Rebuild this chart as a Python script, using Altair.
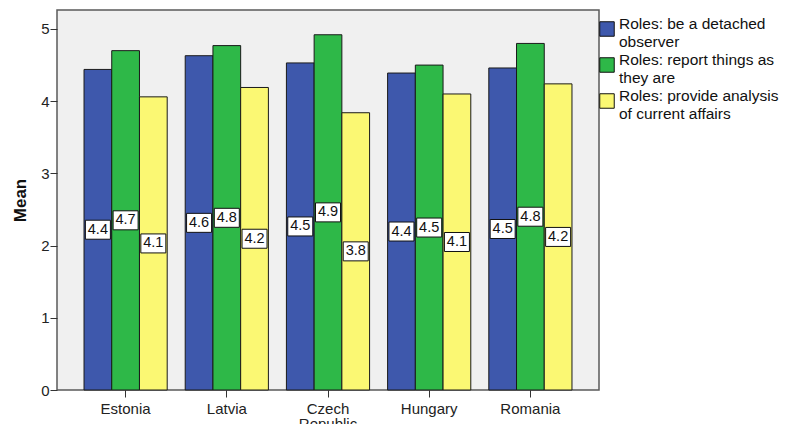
import altair as alt
import pandas as pd

countries = ["Estonia", "Latvia", "Czech Republic", "Hungary", "Romania"]
series = [
    "Roles: be a detached observer",
    "Roles: report things as they are",
    "Roles: provide analysis of current affairs",
]
legend_lines = [
    ["Roles: be a detached", "observer"],
    ["Roles: report things as", "they are"],
    ["Roles: provide analysis", "of current affairs"],
]
detached = [4.44, 4.63, 4.53, 4.39, 4.46]
report = [4.70, 4.77, 4.92, 4.50, 4.80]
analysis = [4.06, 4.19, 3.84, 4.10, 4.24]
colors = ["#3E58AC", "#2EB848", "#FBF873"]
y_ticks = [0, 1, 2, 3, 4, 5]

rows = []
for s, vals in zip(series, [detached, report, analysis]):
    for c, v in zip(countries, vals):
        rows.append({"country": c, "series": s, "value": v})
df = pd.DataFrame(rows)

FONT = "Liberation Sans"

label_expr = ""
for s, lines in zip(series, legend_lines):
    label_expr += "datum.label == '%s' ? [%s] : " % (s, ", ".join("'%s'" % l for l in lines))
label_expr += "datum.label"

x_enc = alt.X(
    "country:N",
    sort=countries,
    scale=alt.Scale(paddingInner=0.178, paddingOuter=0.267),
    axis=alt.Axis(
        title=None,
        labelExpr="split(datum.label, ' ')",
        labelAngle=0,
        labelFont=FONT,
        labelFontSize=15,
        labelLineHeight=15,
        labelColor="#222222",
        labelPadding=4,
        tickSize=7,
        tickColor="#333333",
        domain=False,
    ),
)
xo_enc = alt.XOffset("series:N", sort=series, scale=alt.Scale(paddingInner=0, paddingOuter=0))
y_axis = alt.Axis(
    title="Mean",
    titleFont=FONT,
    titleFontSize=17,
    titleFontWeight="bold",
    titleColor="#111111",
    titlePadding=11,
    values=y_ticks,
    format="d",
    labelFont=FONT,
    labelFontSize=15,
    labelColor="#222222",
    labelPadding=1,
    tickSize=7,
    tickColor="#333333",
    grid=False,
    domain=False,
)
y_scale = alt.Scale(domain=[0, 5.263], nice=False, zero=True)

base = alt.Chart(df)

bars = base.mark_bar(stroke="#1a1a1a", strokeWidth=1, opacity=1).encode(
    x=x_enc,
    xOffset=xo_enc,
    y=alt.Y("value:Q", scale=y_scale, axis=y_axis),
    color=alt.Color(
        "series:N",
        sort=series,
        scale=alt.Scale(domain=series, range=colors),
        legend=alt.Legend(
            title=None,
            orient="none",
            legendX=542,
            legendY=11,
            symbolType="square",
            symbolSize=210,
            symbolStrokeColor="#111111",
            symbolStrokeWidth=1,
            symbolOpacity=1,
            labelFont=FONT,
            labelFontSize=15.5,
            labelColor="#111111",
            labelLimit=400,
            labelOffset=4,
            labelBaseline="alphabetic",
            rowPadding=3,
            padding=0,
            labelExpr=label_expr,
        ),
    ),
)

mid = base.transform_calculate(mid="datum.value / 2")

boxes = mid.mark_point(
    shape="M-1,-0.76L1,-0.76L1,0.76L-1,0.76Z",
    size=625,
    filled=True,
    fill="white",
    stroke="#111111",
    strokeWidth=1,
    opacity=1,
).encode(
    x=x_enc,
    xOffset=xo_enc,
    y=alt.Y("mid:Q", scale=y_scale, axis=y_axis),
)

texts = mid.mark_text(font=FONT, fontSize=14.5, color="#111111", baseline="middle").encode(
    x=x_enc,
    xOffset=xo_enc,
    y=alt.Y("mid:Q", scale=y_scale, axis=y_axis),
    text=alt.Text("value:Q", format=".1f"),
)

chart = (
    alt.layer(bars, boxes, texts)
    .properties(
        width=542,
        height=380,
        autosize=alt.AutoSizeParams(type="none"),
        padding={"left": 49, "top": 2, "right": 185, "bottom": 34},
        background="white",
    )
    .configure_view(fill="#F0F0F0", stroke="#5a5a5a", strokeWidth=1.5)
)

chart.save("out.html", embed_options={"renderer": "svg", "actions": False})
